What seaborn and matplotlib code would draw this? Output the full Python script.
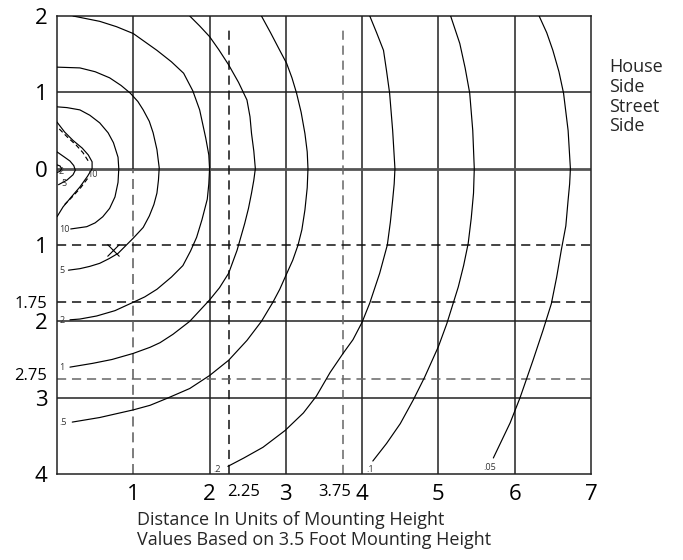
import matplotlib
matplotlib.use("Agg")
import matplotlib.pyplot as plt
import matplotlib.transforms as mtransforms
import pandas as pd
import seaborn as sns

# isofootcandle curves, points (x = distance, y = house(+)/street(-))
fc10 = [(0.00, 0.81), (0.13, 0.80), (0.30, 0.77), (0.43, 0.70), (0.56, 0.60), (0.67, 0.47),
        (0.74, 0.34), (0.80, 0.15), (0.81, 0.00), (0.80, -0.18), (0.76, -0.37), (0.69, -0.52),
        (0.60, -0.63), (0.50, -0.71), (0.39, -0.76), (0.18, -0.79)]
fc5 = [(0.00, 1.33), (0.30, 1.32), (0.50, 1.27), (0.69, 1.19), (0.84, 1.09), (0.96, 0.99),
       (1.06, 0.88), (1.13, 0.77), (1.21, 0.62), (1.26, 0.47), (1.31, 0.25), (1.34, 0.01),
       (1.33, -0.15), (1.31, -0.32), (1.27, -0.47), (1.21, -0.62), (1.13, -0.77), (1.00, -0.91),
       (0.90, -1.01), (0.80, -1.11), (0.68, -1.18), (0.56, -1.24), (0.43, -1.28), (0.30, -1.31),
       (0.15, -1.33)]
fc2 = [(0.21, 2.00), (0.56, 1.93), (0.78, 1.86), (1.00, 1.77), (1.31, 1.55), (1.50, 1.40),
       (1.66, 1.25), (1.78, 1.02), (1.87, 0.77), (1.95, 0.40), (1.99, 0.18), (2.00, 0.00),
       (1.99, -0.20), (1.97, -0.40), (1.90, -0.67), (1.83, -0.90), (1.75, -1.08), (1.65, -1.27),
       (1.50, -1.42), (1.31, -1.58), (1.15, -1.68), (1.00, -1.75), (0.76, -1.86), (0.52, -1.93),
       (0.30, -1.97), (0.17, -1.98)]
fc1 = [(1.74, 2.00), (1.87, 1.87), (2.00, 1.73), (2.12, 1.56), (2.25, 1.36), (2.38, 1.13),
       (2.49, 0.90), (2.53, 0.68), (2.55, 0.46), (2.58, 0.23), (2.60, 0.00), (2.58, -0.15),
       (2.55, -0.32), (2.51, -0.52), (2.46, -0.72), (2.36, -1.07), (2.25, -1.37), (2.13, -1.56),
       (2.00, -1.72), (1.74, -2.00), (1.52, -2.17), (1.35, -2.28), (1.22, -2.34), (1.00, -2.42),
       (0.72, -2.50), (0.47, -2.55), (0.17, -2.60)]
fc0_5 = [(2.68, 2.00), (2.80, 1.78), (2.92, 1.55), (3.01, 1.38), (3.08, 1.19), (3.14, 0.99),
         (3.20, 0.74), (3.25, 0.46), (3.28, 0.22), (3.29, 0.00), (3.28, -0.25), (3.25, -0.54),
         (3.21, -0.80), (3.16, -1.00), (3.09, -1.20), (3.00, -1.40), (2.92, -1.58), (2.83, -1.75),
         (2.68, -2.00), (2.49, -2.25), (2.25, -2.51), (2.00, -2.71), (1.74, -2.88), (1.44, -3.01),
         (1.22, -3.10), (1.00, -3.16), (0.56, -3.26), (0.20, -3.32)]
fc0_2 = [(4.10, 2.00), (4.19, 1.78), (4.28, 1.55), (4.32, 1.28), (4.36, 0.99), (4.40, 0.50),
         (4.43, 0.00), (4.42, -0.20), (4.40, -0.41), (4.37, -0.70), (4.33, -1.00), (4.23, -1.37),
         (4.10, -1.76), (4.00, -2.01), (3.88, -2.24), (3.75, -2.42), (3.58, -2.67), (3.40, -2.98),
         (3.23, -3.20), (2.99, -3.43), (2.70, -3.65), (2.45, -3.79), (2.24, -3.90)]
fc0_1 = [(5.16, 2.00), (5.28, 1.64), (5.35, 1.32), (5.41, 0.99), (5.45, 0.50), (5.47, 0.00),
         (5.46, -0.32), (5.43, -0.65), (5.39, -0.98), (5.33, -1.27), (5.26, -1.55), (5.11, -2.03),
         (5.00, -2.33), (4.82, -2.73), (4.67, -3.03), (4.50, -3.34), (4.32, -3.60), (4.14, -3.83)]
fc0_05 = [(6.32, 2.00), (6.42, 1.78), (6.50, 1.55), (6.58, 1.27), (6.64, 0.99), (6.70, 0.50),
          (6.73, 0.00), (6.72, -0.20), (6.70, -0.41), (6.67, -0.75), (6.61, -1.07), (6.55, -1.42),
          (6.48, -1.77), (6.37, -2.12), (6.24, -2.51), (6.07, -3.00), (5.94, -3.33), (5.72, -3.79)]

# small curves around the fixture
inner_nose = [(0.00, 0.61), (0.10, 0.48), (0.21, 0.37), (0.33, 0.27), (0.41, 0.18), (0.46, 0.09),
              (0.46, 0.00), (0.40, -0.10), (0.30, -0.24), (0.18, -0.38), (0.08, -0.50), (0.00, -0.63)]
inner_nose_dash_top = [(0.03, 0.52), (0.14, 0.41), (0.25, 0.31), (0.34, 0.21), (0.41, 0.10)]
inner_nose_dash_bot = [(0.40, -0.13), (0.31, -0.25), (0.20, -0.37), (0.10, -0.47)]
inner_2 = [(0.00, 0.22), (0.10, 0.15), (0.17, 0.10), (0.22, 0.04), (0.24, -0.02), (0.21, -0.08),
           (0.13, -0.15), (0.02, -0.21)]
inner_loop = [(0.00, 0.05), (0.04, 0.035), (0.06, 0.00), (0.04, -0.035), (0.00, -0.05)]

solid_curves = {"10": fc10, "5": fc5, "2": fc2, "1": fc1, ".5": fc0_5, ".2": fc0_2,
                ".1": fc0_1, ".05": fc0_05, "nose": inner_nose, "in2": inner_2, "loop": inner_loop}
dashed_curves = {"dtop": inner_nose_dash_top, "dbot": inner_nose_dash_bot}

# curve labels: text, x, y
curve_labels = ["10", "5", "2", "1", ".5", ".2", ".1", ".05", "2", "5", "10"]
label_x = [0.03, 0.03, 0.03, 0.03, 0.03, 2.10, 4.06, 5.67, 0.06, 0.09, 0.46]
label_y = [-0.80, -1.33, -1.99, -2.60, -3.32, -3.94, -3.94, -3.91, -0.04, -0.19, -0.07]

x_ticks = [1, 2, 2.25, 3, 3.75, 4, 5, 6, 7]
x_tick_labels = ["1", "2", "2.25", "3", "3.75", "4", "5", "6", "7"]
y_ticks = [2, 1, 0, -1, -1.75, -2, -2.75, -3, -4]
y_tick_labels = ["2", "1", "0", "1", "1.75", "2", "2.75", "3", "4"]

grid_solid_x = [2, 3, 4, 5, 6]
grid_solid_y = [1, -2, -3]
grid_dashed_x = [2.25, 3.75]
grid_dashed_y = [-1, -1.75, -2.75]
mark_x, mark_y = [0.73], [-1.07]

rows = []
for name, pts in solid_curves.items():
    for x, y in pts:
        rows.append({"x": x, "y": y, "curve": name, "kind": "solid"})
for name, pts in dashed_curves.items():
    for x, y in pts:
        rows.append({"x": x, "y": y, "curve": name, "kind": "dashed"})
df = pd.DataFrame(rows)

sns.set_style("white")
plt.rcParams["font.family"] = ["Open Sans", "DejaVu Sans"]

fig = plt.figure(figsize=(6.83, 5.6), dpi=100)
ax = fig.add_axes([57 / 683, 1 - 474 / 560, 534 / 683, 458 / 560])

# grid
gc = "#222222"
for gx in grid_solid_x:
    ax.axvline(gx, color=gc, lw=1.1, zorder=1)
for gy in grid_solid_y:
    ax.axhline(gy, color=gc, lw=1.1, zorder=1)
ax.axhline(0, color="#555555", lw=2.0, zorder=1)
ax.axvline(1, ymin=4 / 6, ymax=1, color=gc, lw=1.1, zorder=1)
ax.axvline(1, ymin=0, ymax=4 / 6, color="#666666", lw=1.2, dashes=(6, 3.5), zorder=1)
dash_cols_x = ["#111111", "#666666"]
for gx, c in zip(grid_dashed_x, dash_cols_x):
    ax.axvline(gx, ymax=0.98, color=c, lw=1.1, dashes=(6, 3.8), zorder=1)
dash_cols_y = ["#111111", "#111111", "#666666"]
for gy, c in zip(grid_dashed_y, dash_cols_y):
    ax.axhline(gy, color=c, lw=1.1, dashes=(6, 3.8), zorder=1)

sns.lineplot(data=df, x="x", y="y", units="curve", estimator=None, sort=False,
             style="kind", dashes={"solid": "", "dashed": (4, 2.5)}, color="black",
             lw=0.85, legend=False, ax=ax, zorder=3)
ax.plot(mark_x, mark_y, marker="x", ms=8, mew=0.8, color="black", ls="none", zorder=3)

for t, lx, ly in zip(curve_labels, label_x, label_y):
    ha = "left" if lx < 0.05 or t == ".1" else "center"
    ax.text(lx, ly, t, fontsize=6.5, color="#333333", ha=ha, va="center", zorder=4)

ax.set_xlim(0, 7)
ax.set_ylim(-4, 2)
ax.set_xlabel("")
ax.set_ylabel("")
ax.set_xticks(x_ticks)
ax.set_xticklabels(x_tick_labels)
ax.set_yticks(y_ticks)
ax.set_yticklabels(y_tick_labels)
ax.tick_params(axis="both", length=0, colors="black")
ax.tick_params(axis="x", pad=7)
ax.tick_params(axis="y", pad=7)
for lab in ax.get_xticklabels() + ax.get_yticklabels():
    small = "." in lab.get_text()
    lab.set_fontsize(12 if small else 16)
# nudge the crowded small labels like the reference
xl = ax.get_xticklabels()
xl[2].set_transform(xl[2].get_transform() + mtransforms.ScaledTranslation(15 / 100, 0, fig.dpi_scale_trans))
xl[4].set_transform(xl[4].get_transform() + mtransforms.ScaledTranslation(-8 / 100, 0, fig.dpi_scale_trans))
yl = ax.get_yticklabels()
yl[6].set_transform(yl[6].get_transform() + mtransforms.ScaledTranslation(0, 5 / 100, fig.dpi_scale_trans))

for s in ax.spines.values():
    s.set_visible(True)
    s.set_color(gc)
    s.set_linewidth(1.1)

fig.text(137 / 683, 1 - 511 / 560,
         "Distance In Units of Mounting Height\nValues Based on 3.5 Foot Mounting Height",
         fontsize=13, ha="left", va="top", linespacing=1.13)
fig.text(609 / 683, 1 - 58 / 560, "House\nSide\nStreet\nSide",
         fontsize=13, ha="left", va="top", linespacing=1.13)

fig.savefig("out.png", dpi=100)
